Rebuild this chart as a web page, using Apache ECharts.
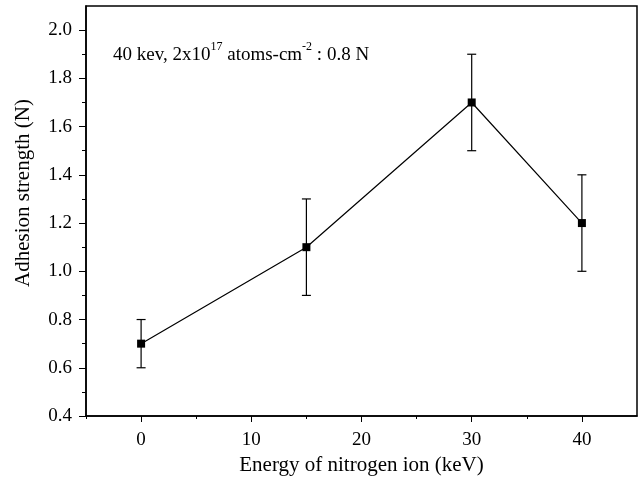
<!DOCTYPE html>
<html>
<head>
<meta charset="utf-8">
<script src="https://cdn.jsdelivr.net/npm/echarts@6/dist/echarts.min.js"></script>
<style>
  html, body { margin: 0; padding: 0; background: #fff; }
  #chart { width: 638px; height: 481px; }
</style>
</head>
<body>
<div id="chart"></div>
<script>
// adhesion strength vs nitrogen ion energy, with error bars
const energy = [0, 15, 30, 40];
const strength = [0.7, 1.1, 1.7, 1.2];
const errLow = [0.6, 0.9, 1.5, 1.0];
const errHigh = [0.8, 1.3, 1.9, 1.4];

const xMajor = [0, 10, 20, 30, 40];
const xMinor = [-5, 5, 15, 25, 35];
const yMajor = [0.4, 0.6, 0.8, 1.0, 1.2, 1.4, 1.6, 1.8, 2.0];
const yMinor = [0.5, 0.7, 0.9, 1.1, 1.3, 1.5, 1.7, 1.9];

const font = '"Liberation Serif", "Times New Roman", serif';

const myChart = echarts.init(document.getElementById('chart'));

const lineData = energy.map((x, i) => [x, strength[i]]);
const errData = energy.map((x, i) => [x, errLow[i], errHigh[i]]);

// tick-only axis (no line, no labels)
function tickAxis(min, max, pos, values, len) {
  return {
    type: 'value', min: min, max: max, position: pos,
    axisLine: { show: false, onZero: false },
    axisTick: { show: true, length: len, customValues: values, lineStyle: { color: '#000', width: 1 } },
    axisLabel: { show: false },
    splitLine: { show: false }
  };
}

const option = {
  backgroundColor: '#fff',
  animation: false,
  grid: {
    left: 86, right: 1, top: 6, bottom: 63,
    show: true, borderColor: '#000', borderWidth: 1.5
  },
  xAxis: [
    {
      type: 'value', min: -5, max: 45,
      name: 'Energy of nitrogen ion (keV)',
      nameLocation: 'middle', nameGap: 39,
      nameTextStyle: { fontFamily: font, fontSize: 21, color: '#000' },
      axisLine: { onZero: false, lineStyle: { color: '#000', width: 1.5 } },
      axisTick: { show: false },
      axisLabel: { customValues: xMajor, margin: 15, fontFamily: font, fontSize: 19, color: '#000' },
      splitLine: { show: false }
    },
    tickAxis(-5, 45, 'bottom', xMajor, 6),
    tickAxis(-5, 45, 'bottom', xMinor, 3)
  ],
  yAxis: [
    {
      type: 'value', min: 0.4, max: 2.1,
      name: 'Adhesion strength (N)',
      nameLocation: 'middle', nameGap: 52,
      nameTextStyle: { fontFamily: font, fontSize: 21, color: '#000', padding: [0, 0, 0, 36] },
      axisLine: { show: true, onZero: false, lineStyle: { color: '#000', width: 1.5 } },
      axisTick: { show: false },
      axisLabel: {
        customValues: yMajor, margin: 14,
        fontFamily: font, fontSize: 19, color: '#000',
        formatter: v => v.toFixed(1)
      },
      splitLine: { show: false }
    },
    tickAxis(0.4, 2.1, 'left', yMajor, 7),
    tickAxis(0.4, 2.1, 'left', yMinor, 4)
  ],
  graphic: [
    {
      type: 'text', left: 113, top: 41,
      style: {
        text: '{n|40 kev, 2x10}{s|17}{n| atoms-cm}{s|-2}{n| : 0.8 N}',
        rich: {
          n: { fontFamily: font, fontSize: 19, fill: '#000', lineHeight: 24, verticalAlign: 'bottom' },
          s: { fontFamily: font, fontSize: 12, fill: '#000', lineHeight: 24, verticalAlign: 'top' }
        }
      }
    }
  ],
  series: [
    {
      type: 'custom',
      xAxisIndex: 0, yAxisIndex: 0,
      data: errData,
      z: 2,
      renderItem: (params, api) => {
        const x = api.value(0);
        const lo = api.coord([x, api.value(1)]);
        const hi = api.coord([x, api.value(2)]);
        const cap = 4.5;
        const style = { stroke: '#000', lineWidth: 1.2 };
        return {
          type: 'group',
          children: [
            { type: 'line', shape: { x1: lo[0], y1: lo[1], x2: hi[0], y2: hi[1] }, style },
            { type: 'line', shape: { x1: lo[0] - cap, y1: lo[1], x2: lo[0] + cap, y2: lo[1] }, style },
            { type: 'line', shape: { x1: hi[0] - cap, y1: hi[1], x2: hi[0] + cap, y2: hi[1] }, style }
          ]
        };
      }
    },
    {
      type: 'line',
      xAxisIndex: 0, yAxisIndex: 0,
      data: lineData,
      symbol: 'rect', symbolSize: 8,
      lineStyle: { color: '#000', width: 1.2 },
      itemStyle: { color: '#000' },
      z: 3
    }
  ]
};

myChart.setOption(option);
</script>
</body>
</html>
